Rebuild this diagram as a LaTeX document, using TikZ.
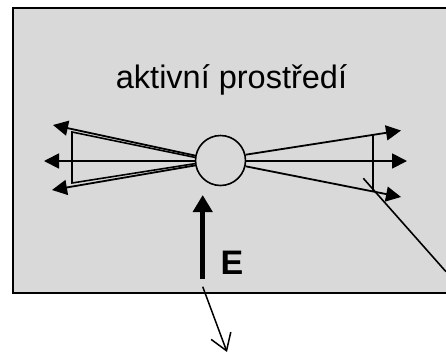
\documentclass[tikz,border=0pt]{standalone}
\usepackage{fontspec}
\setmainfont{Liberation Sans}
\usetikzlibrary{arrows.meta}
\definecolor{bggray}{RGB}{217,217,217}
\begin{document}
\begin{tikzpicture}[x=1pt,y=-1pt,
  ray/.style={line width=1.8pt,-{Triangle[length=15pt,width=15pt]}},
  thin line/.style={line width=1.6pt},
  field/.style={line width=5pt,-{Triangle[length=17pt,width=19pt]}},
  outray/.style={line width=1.5pt,-{Straight Barb[length=16pt,width=21pt,line width=1.5pt]}},
  lbl/.style={inner sep=0pt,anchor=base}]
\useasboundingbox (0,0) rectangle (446,354);
\clip (0,0) rectangle (446,354);
% medium
\draw[fill=bggray,line width=2.4pt] (13,8) rectangle (470,293);
\node[lbl,font=\fontsize{32.5}{36}\selectfont] (title) at (231.5,88.3) {aktivní prostředí};
% particle
\node[circle,draw,fill=bggray,line width=1.6pt,minimum size=50pt,inner sep=0pt] (c) at (220.5,160.5) {};
% ray tips
\coordinate (lu) at (53,125);
\coordinate (lm) at (44,161);
\coordinate (ll) at (52,190);
\coordinate (ru) at (401,130.5);
\coordinate (rm) at (407,161);
\coordinate (rl) at (401,197);
\draw[ray] (c.169) -- (lu);
\draw[ray] (c.west |- 0,161) -- (lm);
\draw[ray] (c.191) -- (ll);
\draw[ray] (c.13) -- (ru);
\draw[ray] (c.east |- 0,161) -- (rm);
\draw[ray] (c.-13) -- (rl);
% left wedge (double outline)
\coordinate (wa) at (72,132);
\coordinate (wb) at (72,183);
\draw[thin line] (c.173) -- (wa) -- (wb) -- (c.187);
% right wedge
\coordinate (wc) at (373,135);
\coordinate (wd) at (373,191.5);
\draw[thin line] (wc) -- (wd);
% oblique line
\coordinate (oa) at (363.3,178.3);
\coordinate (ob) at (446,271.7);
\draw[thin line] (oa) -- (ob);
% field E
\coordinate (ea) at (202.7,279);
\coordinate (eb) at (202.7,195);
\draw[field] (ea) -- (eb);
\node[lbl,anchor=base west,font=\bfseries\fontsize{34}{36}\selectfont] (E) at (220.5,274.3) {E};
% outgoing arrow
\coordinate (oa2) at (202.7,286.7);
\coordinate (ob2) at (227,352);
\draw[outray] (oa2) -- (ob2);
\end{tikzpicture}
\end{document}
